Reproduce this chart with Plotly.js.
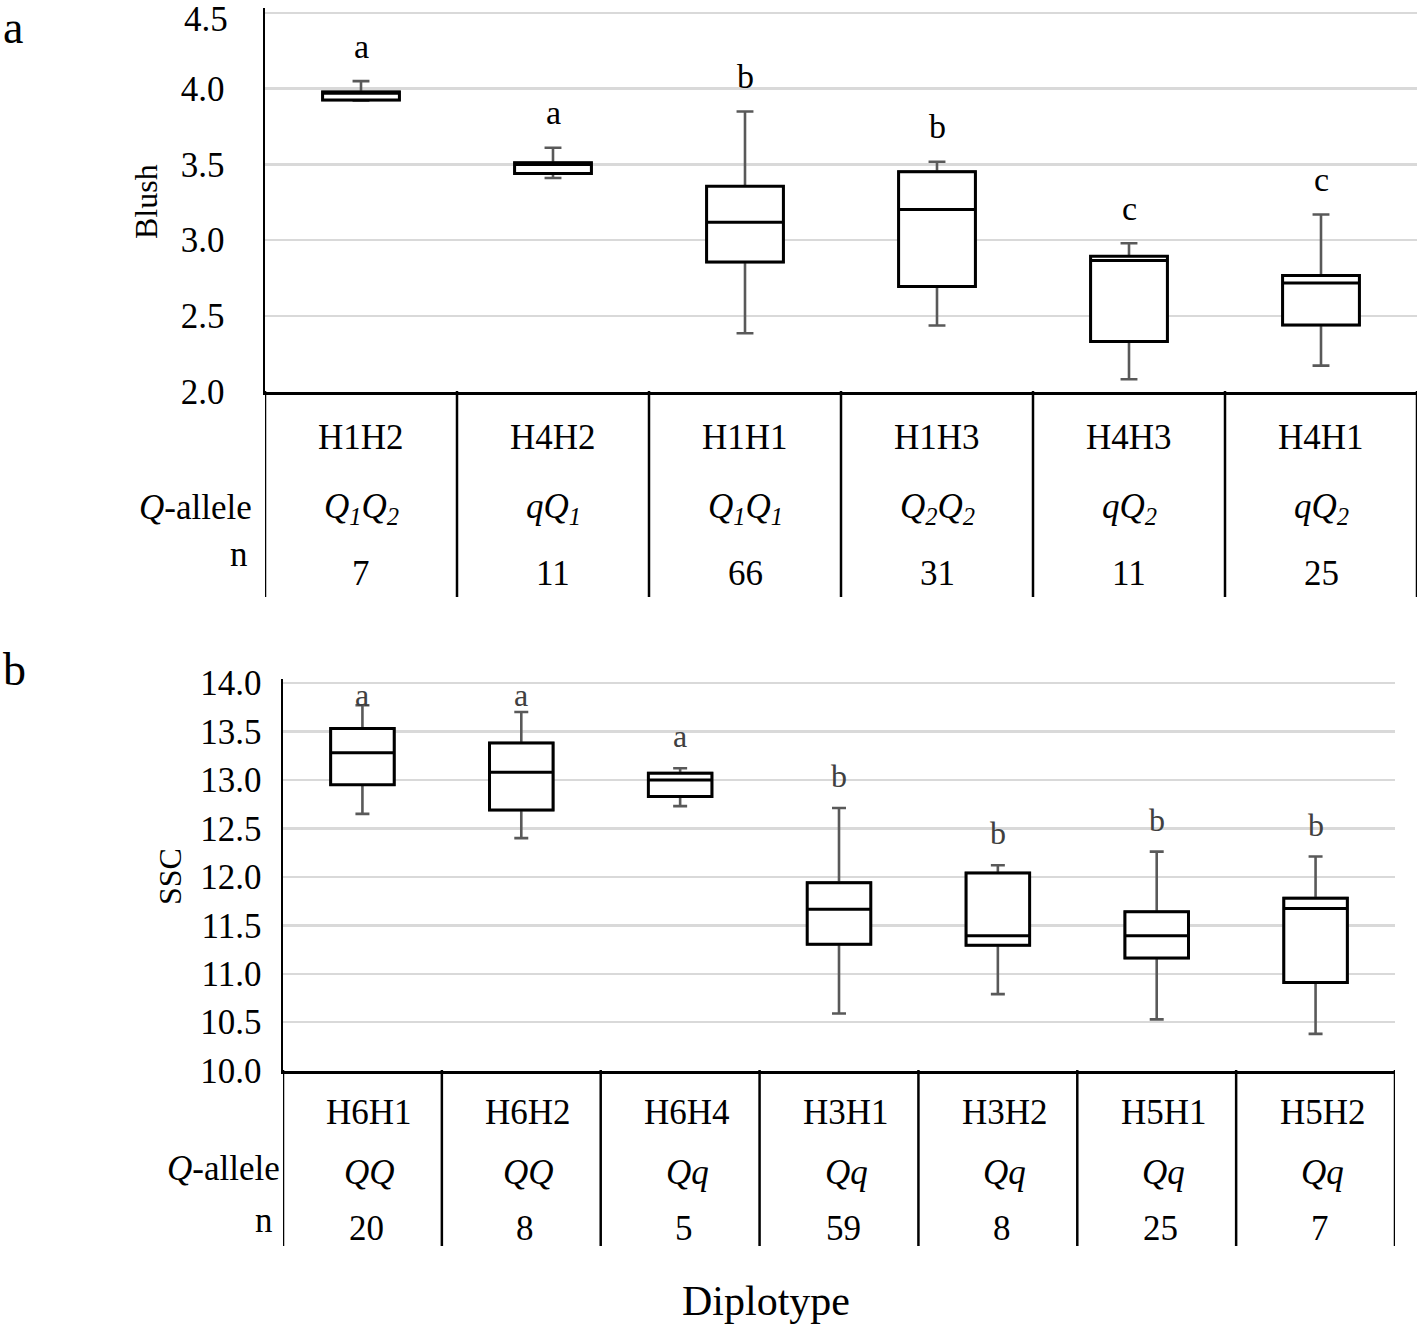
<!DOCTYPE html>
<html>
<head>
<meta charset="utf-8">
<script src="https://cdn.plot.ly/plotly-3.0.1.min.js"></script>
<style>body{margin:0;padding:0;background:#fff;}#chart{width:1418px;height:1324px;}</style>
</head>
<body>
<div id="chart"></div>
<script>
// ---- Panel a: Blush ----
const catsA = ['H1H2', 'H4H2', 'H1H1', 'H1H3', 'H4H3', 'H4H1'];
const qAlleleA = ['<i>Q<sub>1</sub>Q<sub>2</sub></i>', '<i>qQ<sub>1</sub></i>', '<i>Q<sub>1</sub>Q<sub>1</sub></i>', '<i>Q<sub>2</sub>Q<sub>2</sub></i>', '<i>qQ<sub>2</sub></i>', '<i>qQ<sub>2</sub></i>'];
const nA = [7, 11, 66, 31, 11, 25];
const minA = [3.92, 3.41, 2.385, 2.436, 2.081, 2.171];
const q1A = [3.926, 3.44, 2.856, 2.694, 2.33, 2.44];
const medA = [3.97, 3.50, 3.118, 3.202, 2.866, 2.716];
const q3A = [3.979, 3.511, 3.356, 3.452, 2.893, 2.767];
const maxA = [4.05, 3.61, 3.849, 3.518, 2.979, 3.169];
const lettersA = ['a', 'a', 'b', 'b', 'c', 'c'];
const yTicksA = [2.0, 2.5, 3.0, 3.5, 4.0, 4.5];

// ---- Panel b: SSC ----
const catsB = ['H6H1', 'H6H2', 'H6H4', 'H3H1', 'H3H2', 'H5H1', 'H5H2'];
const qAlleleB = ['<i>QQ</i>', '<i>QQ</i>', '<i>Qq</i>', '<i>Qq</i>', '<i>Qq</i>', '<i>Qq</i>', '<i>Qq</i>'];
const nB = [20, 8, 5, 59, 8, 25, 7];
const minB = [12.65, 12.40, 12.73, 10.59, 10.79, 10.53, 10.38];
const q1B = [12.95, 12.69, 12.83, 11.305, 11.294, 11.164, 10.909];
const medB = [13.28, 13.08, 13.00, 11.666, 11.391, 11.391, 11.673];
const q3B = [13.53, 13.38, 13.07, 11.94, 12.04, 11.64, 11.78];
const maxB = [13.77, 13.70, 13.12, 12.71, 12.12, 12.26, 12.21];
const lettersB = ['a', 'a', 'a', 'b', 'b', 'b', 'b'];
const yTicksB = [10.0, 10.5, 11.0, 11.5, 12.0, 12.5, 13.0, 13.5, 14.0];

const W = 1418, H = 1324;
const SERIF = 'Liberation Serif, Times New Roman, serif';
const py = p => 1 - p / H;
const px = p => p / W;

function boxTraces(cats, mn, q1, med, q3, mx, xa, ya) {
  const whisk = {
    type: 'box', x: cats, q1: q1, median: med, q3: q3, lowerfence: mn, upperfence: mx,
    width: 0.4, whiskerwidth: 0.22, boxpoints: false,
    line: {color: '#595959', width: 2.6}, fillcolor: '#ffffff',
    xaxis: xa, yaxis: ya, hoverinfo: 'skip'
  };
  const box = {
    type: 'box', x: cats, q1: q1, median: med, q3: q3, lowerfence: q1, upperfence: q3,
    width: 0.4, whiskerwidth: 0, boxpoints: false,
    line: {color: '#000000', width: 3}, fillcolor: '#ffffff',
    xaxis: xa, yaxis: ya, hoverinfo: 'skip'
  };
  return [whisk, box];
}

const data = [].concat(
  boxTraces(catsA, minA, q1A, medA, q3A, maxA, 'x', 'y'),
  boxTraces(catsB, minB, q1B, medB, q3B, maxB, 'x2', 'y2')
);

const ann = [];
const shapes = [];

// panel letters
ann.push({text: 'a', xref: 'paper', yref: 'paper', x: px(1), y: py(0), xanchor: 'left', yanchor: 'top', showarrow: false, font: {family: SERIF, size: 46, color: '#000'}});
ann.push({text: 'b', xref: 'paper', yref: 'paper', x: px(1), y: py(642), xanchor: 'left', yanchor: 'top', showarrow: false, font: {family: SERIF, size: 46, color: '#000'}});

// top tick label of panel a (kept inside the page)
const topA = yTicksA[yTicksA.length - 1];
ann.push({text: topA.toFixed(1), xref: 'paper', yref: 'y', x: px(230), y: topA, xanchor: 'right', yanchor: 'middle', yshift: -6, showarrow: false, font: {family: SERIF, size: 35, color: '#000'}});

// y titles
ann.push({text: 'Blush', xref: 'paper', yref: 'paper', x: px(146), y: py(202), textangle: -90, xanchor: 'center', yanchor: 'middle', showarrow: false, font: {family: SERIF, size: 32, color: '#000'}});
ann.push({text: 'SSC', xref: 'paper', yref: 'paper', x: px(170), y: py(877), textangle: -90, xanchor: 'center', yanchor: 'middle', showarrow: false, font: {family: SERIF, size: 32, color: '#000'}});

// significance letters
catsA.forEach((c, i) => ann.push({text: lettersA[i], xref: 'x', yref: 'y', x: c, y: maxA[i] + 0.23, yanchor: 'middle', showarrow: false, font: {family: SERIF, size: 34, color: '#000'}}));
catsB.forEach((c, i) => ann.push({text: lettersB[i], xref: 'x2', yref: 'y2', x: c, y: Math.min(maxB[i] + 0.33, 13.88), yanchor: 'middle', showarrow: false, font: {family: SERIF, size: 32, color: '#404040'}}));

// table panel a
const tf = {family: SERIF, size: 35, color: '#000'};
catsA.forEach((c, i) => {
  ann.push({text: c, xref: 'x', yref: 'paper', x: c, y: py(437), yanchor: 'middle', showarrow: false, font: tf});
  ann.push({text: qAlleleA[i], xref: 'x', yref: 'paper', x: c, y: py(508), yanchor: 'middle', showarrow: false, font: tf});
  ann.push({text: String(nA[i]), xref: 'x', yref: 'paper', x: c, y: py(573), yanchor: 'middle', showarrow: false, font: tf});
});
ann.push({text: '<i>Q</i>-allele', xref: 'paper', yref: 'paper', x: px(254), y: py(507), xanchor: 'right', yanchor: 'middle', showarrow: false, font: tf});
ann.push({text: 'n', xref: 'paper', yref: 'paper', x: px(250), y: py(555), xanchor: 'right', yanchor: 'middle', showarrow: false, font: tf});
for (let i = 0; i <= catsA.length; i++) {
  shapes.push({type: 'line', xref: 'x', yref: 'paper', x0: i - 0.5, x1: i - 0.5, y0: py(391), y1: py(597), line: {color: '#000', width: 2.5}});
}

// table panel b
catsB.forEach((c, i) => {
  ann.push({text: c, xref: 'x2', yref: 'paper', x: c, y: py(1112), xshift: 7, yanchor: 'middle', showarrow: false, font: tf});
  ann.push({text: qAlleleB[i], xref: 'x2', yref: 'paper', x: c, y: py(1172), xshift: 7, yanchor: 'middle', showarrow: false, font: tf});
  ann.push({text: String(nB[i]), xref: 'x2', yref: 'paper', x: c, y: py(1228), xshift: 4, yanchor: 'middle', showarrow: false, font: tf});
});
ann.push({text: '<i>Q</i>-allele', xref: 'paper', yref: 'paper', x: px(282), y: py(1168), xanchor: 'right', yanchor: 'middle', showarrow: false, font: tf});
ann.push({text: 'n', xref: 'paper', yref: 'paper', x: px(275), y: py(1220), xanchor: 'right', yanchor: 'middle', showarrow: false, font: tf});
for (let i = 0; i <= catsB.length; i++) {
  shapes.push({type: 'line', xref: 'x2', yref: 'paper', x0: i - 0.5, x1: i - 0.5, y0: py(1070), y1: py(1246), line: {color: '#000', width: 2.5}});
}

ann.push({text: 'Diplotype', xref: 'paper', yref: 'paper', x: px(766), y: py(1301), xanchor: 'center', yanchor: 'middle', showarrow: false, font: {family: SERIF, size: 42, color: '#000'}});

const xCommon = {type: 'category', showticklabels: false, showgrid: false, zeroline: false, ticks: '', showline: true, linecolor: '#000', linewidth: 3, fixedrange: true};
const yCommon = {showgrid: true, gridcolor: '#d9d9d9', gridwidth: 2.5, zeroline: false, ticks: '', showline: true, linecolor: '#000', linewidth: 2.5, tickmode: 'array', tickformat: '.1f', ticklabeloverflow: 'allow', tickfont: {family: SERIF, size: 35, color: '#000'}};

// 151 px per unit in panel a, ~96.9 px per unit in panel b
const layout = {
  width: W, height: H,
  margin: {l: 0, r: 0, t: 0, b: 0},
  paper_bgcolor: '#fff', plot_bgcolor: '#fff',
  showlegend: false,
  font: {family: SERIF},
  boxmode: 'overlay',
  xaxis: Object.assign({}, xCommon, {domain: [px(265), px(1417)], anchor: 'y', range: [-0.5, 5.5]}),
  yaxis: Object.assign({}, yCommon, {domain: [py(391.5), py(13 - 0.03 * 151)], anchor: 'x', range: [2, 4.53], tickvals: yTicksA, ticktext: yTicksA.map((v, i) => i === yTicksA.length - 1 ? '' : v.toFixed(1)), ticklabelstandoff: 31}),
  xaxis2: Object.assign({}, xCommon, {domain: [px(283), px(1395)], anchor: 'y2', range: [-0.5, 6.5]}),
  yaxis2: Object.assign({}, yCommon, {domain: [py(1070.7), py(683 - 0.04 * 96.9)], anchor: 'x2', range: [10, 14.04], tickvals: yTicksB, ticktext: yTicksB.map(v => v.toFixed(1)), ticklabelstandoff: 12}),
  annotations: ann,
  shapes: shapes
};

Plotly.newPlot('chart', data, layout, {staticPlot: true, displayModeBar: false});
</script>
</body>
</html>
